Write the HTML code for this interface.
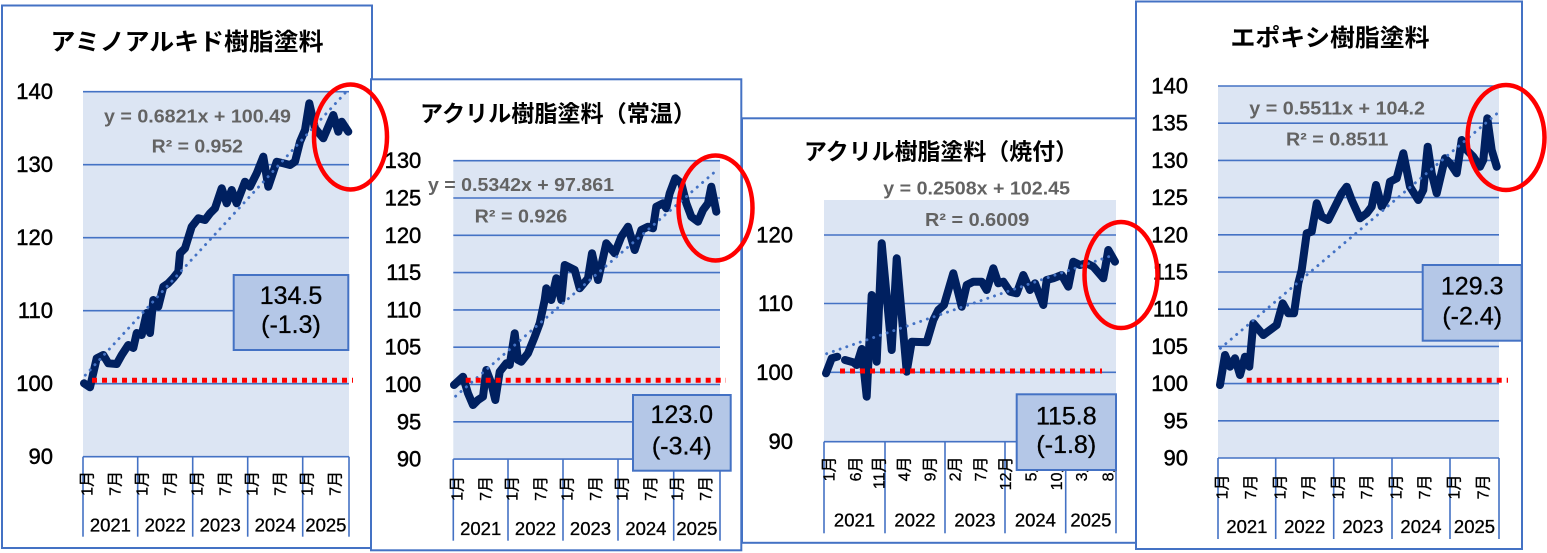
<!DOCTYPE html>
<html><head><meta charset="utf-8"><style>
html,body{margin:0;padding:0;background:#fff;}
svg{display:block;}
text{font-family:"Liberation Sans","Noto Sans CJK JP",sans-serif;}
.lab{stroke:#000;stroke-width:0.45;}
.lab2{stroke:#000;stroke-width:0.3;}
</style></head><body>
<svg width="1547" height="553" viewBox="0 0 1547 553" xmlns="http://www.w3.org/2000/svg">
<rect x="0" y="0" width="1547" height="553" fill="#fff"/>

<!-- ============ PANEL 1 ============ -->
<rect x="2" y="5.5" width="370" height="542.5" fill="#fff" stroke="#4472C4" stroke-width="2"/>
<text x="50.5" y="42.5" font-size="24" font-weight="bold" dominant-baseline="central" textLength="273" lengthAdjust="spacingAndGlyphs">アミノアルキド樹脂塗料</text>
<rect x="83" y="91.7" width="266" height="365" fill="#DCE5F3"/>
<g stroke="#4472C4" stroke-width="1.6">
<line x1="83" y1="91.7" x2="349" y2="91.7"/><line x1="83" y1="164.7" x2="349" y2="164.7"/><line x1="83" y1="237.7" x2="349" y2="237.7"/><line x1="83" y1="310.7" x2="349" y2="310.7"/><line x1="83" y1="383.7" x2="349" y2="383.7"/><line x1="83" y1="456.7" x2="349" y2="456.7"/>
<line x1="83" y1="456.7" x2="83" y2="536.7"/><line x1="137.7" y1="456.7" x2="137.7" y2="536.7"/><line x1="192.7" y1="456.7" x2="192.7" y2="536.7"/><line x1="247.7" y1="456.7" x2="247.7" y2="536.7"/><line x1="302.7" y1="456.7" x2="302.7" y2="536.7"/><line x1="349" y1="456.7" x2="349" y2="536.7"/>
</g>
<g class="lab" font-size="22" text-anchor="end" dominant-baseline="central" fill="#000">
<text x="53" y="91.7">140</text><text x="53" y="164.7">130</text><text x="53" y="237.7">120</text><text x="53" y="310.7">110</text><text x="53" y="383.7">100</text><text x="53" y="456.7">90</text>
</g>
<g class="lab2" font-size="16" text-anchor="end" dominant-baseline="central" fill="#000">
<text transform="translate(88,471) rotate(-90)">1月</text><text transform="translate(116,471) rotate(-90)">7月</text>
<text transform="translate(143,471) rotate(-90)">1月</text><text transform="translate(171,471) rotate(-90)">7月</text>
<text transform="translate(198,471) rotate(-90)">1月</text><text transform="translate(226,471) rotate(-90)">7月</text>
<text transform="translate(253,471) rotate(-90)">1月</text><text transform="translate(281,471) rotate(-90)">7月</text>
<text transform="translate(308,471) rotate(-90)">1月</text><text transform="translate(336,471) rotate(-90)">7月</text>
</g>
<g class="lab2" font-size="18.5" text-anchor="middle" dominant-baseline="central" fill="#000">
<text x="110.4" y="525">2021</text><text x="165.2" y="525">2022</text><text x="220.2" y="525">2023</text><text x="275.2" y="525">2024</text><text x="325.9" y="525">2025</text>
</g>
<polyline fill="none" stroke="#002060" stroke-width="8" stroke-linejoin="round" stroke-linecap="round" points="84,383.3 90,387.3 96.7,358.3 103.3,355 108.3,363.3 116.7,364 121.7,355 128.3,345 133.3,348 136.7,333 141.7,335 146.7,313 150,333 153.3,300 158.3,306.7 163.3,286.7 168.3,283.3 173.3,278 178.3,271.7 180,253.3 185,248.3 191.7,226.7 198.3,218.3 205,220 210,213.3 215,208.3 221.7,188.3 226.7,203.3 231.7,190 236.7,203.3 245,181.7 250,186.7 256.7,173.3 263.3,156.7 268.3,186.7 276.7,161.7 283.3,163.3 290,165 295,161.7 300,141.7 305,130 309.3,103.3 315,128.3 323.3,138.3 333.3,115 338.3,131.7 341.7,121.7 348.3,131.7"/>
<line x1="85.3" y1="375.2" x2="346.7" y2="91.3" stroke="#4472C4" stroke-width="2.9" stroke-dasharray="0.1 7" stroke-linecap="round"/>
<g font-size="18" font-weight="bold" fill="#636363" dominant-baseline="central">
<text x="104" y="116.7" textLength="187" lengthAdjust="spacingAndGlyphs">y = 0.6821x + 100.49</text>
<text x="151.7" y="146.7" textLength="91.3" lengthAdjust="spacingAndGlyphs">R² = 0.952</text>
</g>
<line x1="92" y1="380.3" x2="353" y2="380.3" stroke="#FF0000" stroke-width="5" stroke-dasharray="5 5"/>
<rect x="233.7" y="275" width="114.6" height="75" fill="#B4C7E7" stroke="#4472C4" stroke-width="2"/>
<g class="lab2" font-size="25" text-anchor="middle" dominant-baseline="central" fill="#000">
<text x="291" y="296">134.5</text><text x="291" y="325">(-1.3)</text>
</g>

<!-- ============ PANEL 2 ============ -->
<rect x="371" y="79.3" width="370.3" height="471" fill="#fff" stroke="#4472C4" stroke-width="2"/>
<text x="420" y="113.3" font-size="23" font-weight="bold" dominant-baseline="central" textLength="276" lengthAdjust="spacingAndGlyphs">アクリル樹脂塗料（常温）</text>
<rect x="453.3" y="160.7" width="266.7" height="298.4" fill="#DCE5F3"/>
<g stroke="#4472C4" stroke-width="1.6">
<line x1="453.3" y1="160.7" x2="720" y2="160.7"/><line x1="453.3" y1="198" x2="720" y2="198"/><line x1="453.3" y1="235.3" x2="720" y2="235.3"/><line x1="453.3" y1="272.6" x2="720" y2="272.6"/><line x1="453.3" y1="309.9" x2="720" y2="309.9"/><line x1="453.3" y1="347.2" x2="720" y2="347.2"/><line x1="453.3" y1="384.5" x2="720" y2="384.5"/><line x1="453.3" y1="421.8" x2="720" y2="421.8"/><line x1="453.3" y1="459.1" x2="720" y2="459.1"/>
<line x1="453.3" y1="459.1" x2="453.3" y2="540.7"/><line x1="508" y1="459.1" x2="508" y2="540.7"/><line x1="563" y1="459.1" x2="563" y2="540.7"/><line x1="618" y1="459.1" x2="618" y2="540.7"/><line x1="673.7" y1="459.1" x2="673.7" y2="540.7"/><line x1="720" y1="459.1" x2="720" y2="540.7"/>
</g>
<g class="lab" font-size="22" text-anchor="end" dominant-baseline="central" fill="#000">
<text x="421.3" y="160.7">130</text><text x="421.3" y="198">125</text><text x="421.3" y="235.3">120</text><text x="421.3" y="272.6">115</text><text x="421.3" y="309.9">110</text><text x="421.3" y="347.2">105</text><text x="421.3" y="384.5">100</text><text x="421.3" y="421.8">95</text><text x="421.3" y="459.1">90</text>
</g>
<g class="lab2" font-size="16" text-anchor="end" dominant-baseline="central" fill="#000">
<text transform="translate(458,476) rotate(-90)">1月</text><text transform="translate(486.3,476) rotate(-90)">7月</text>
<text transform="translate(513,476) rotate(-90)">1月</text><text transform="translate(541.3,476) rotate(-90)">7月</text>
<text transform="translate(568,476) rotate(-90)">1月</text><text transform="translate(596.3,476) rotate(-90)">7月</text>
<text transform="translate(623,476) rotate(-90)">1月</text><text transform="translate(651.3,476) rotate(-90)">7月</text>
<text transform="translate(678,476) rotate(-90)">1月</text><text transform="translate(706.3,476) rotate(-90)">7月</text>
</g>
<g class="lab2" font-size="18.5" text-anchor="middle" dominant-baseline="central" fill="#000">
<text x="480.7" y="528.3">2021</text><text x="535.5" y="528.3">2022</text><text x="590.5" y="528.3">2023</text><text x="645.9" y="528.3">2024</text><text x="696.9" y="528.3">2025</text>
</g>
<polyline fill="none" stroke="#002060" stroke-width="8" stroke-linejoin="round" stroke-linecap="round" points="454,385 463,376.7 468,393.3 473,405 478,400 483,396.7 486.3,370 491.3,383.3 495.3,400 499.7,371.7 506.3,363.3 509.7,365 514.7,333.3 518,360 521.3,361.7 528,353.3 534.7,336.7 539.7,323.3 544.7,300 546.3,288.3 551.3,300 556.3,278.3 561.3,300 564.7,265 574.7,270 579.7,288.3 588,278.3 592,253.3 598,280 606.3,243.3 614.7,253.3 621.3,236.7 628,226.7 634.7,250 641.3,230 648,226.7 653,228.3 656.3,206.7 663,203.3 666.3,208.3 669.7,193.3 675.3,178.3 681.3,183.3 686.3,203.3 691.3,216.7 698,221.7 703,210 708,203.3 711.3,186.7 716.3,211.7"/>
<line x1="455.6" y1="396.2" x2="717.7" y2="169.4" stroke="#4472C4" stroke-width="2.9" stroke-dasharray="0.1 7" stroke-linecap="round"/>
<g font-size="18" font-weight="bold" fill="#636363" dominant-baseline="central">
<text x="428" y="185" textLength="186" lengthAdjust="spacingAndGlyphs">y = 0.5342x + 97.861</text>
<text x="474.7" y="216.7" textLength="92.6" lengthAdjust="spacingAndGlyphs">R² = 0.926</text>
</g>
<line x1="465.7" y1="380.3" x2="726" y2="380.3" stroke="#FF0000" stroke-width="5" stroke-dasharray="5 5"/>
<rect x="633" y="395" width="97.7" height="75.7" fill="#B4C7E7" stroke="#4472C4" stroke-width="2"/>
<g class="lab2" font-size="25" text-anchor="middle" dominant-baseline="central" fill="#000">
<text x="681.8" y="415">123.0</text><text x="681.8" y="446.7">(-3.4)</text>
</g>

<!-- ============ PANEL 3 ============ -->
<rect x="742" y="118.3" width="394" height="424.5" fill="#fff" stroke="#4472C4" stroke-width="2"/>
<text x="804" y="151.7" font-size="23" font-weight="bold" dominant-baseline="central" textLength="274" lengthAdjust="spacingAndGlyphs">アクリル樹脂塗料（焼付）</text>
<rect x="824" y="200" width="292" height="241.7" fill="#DCE5F3"/>
<g stroke="#4472C4" stroke-width="1.6">
<line x1="824" y1="235" x2="1116" y2="235"/><line x1="824" y1="303.5" x2="1116" y2="303.5"/><line x1="824" y1="372.3" x2="1116" y2="372.3"/><line x1="824" y1="441.7" x2="1116" y2="441.7"/>
<line x1="824" y1="441.7" x2="824" y2="533.3"/><line x1="885" y1="441.7" x2="885" y2="533.3"/><line x1="945" y1="441.7" x2="945" y2="533.3"/><line x1="1005" y1="441.7" x2="1005" y2="533.3"/><line x1="1065.7" y1="441.7" x2="1065.7" y2="533.3"/><line x1="1116" y1="441.7" x2="1116" y2="533.3"/>
</g>
<g class="lab" font-size="22" text-anchor="end" dominant-baseline="central" fill="#000">
<text x="793" y="235">120</text><text x="793" y="303.5">110</text><text x="793" y="372.3">100</text><text x="793" y="441.5">90</text>
</g>
<g class="lab2" font-size="16" text-anchor="end" dominant-baseline="central" fill="#000">
<text transform="translate(830,456.5) rotate(-90)">1月</text>
<text transform="translate(856.7,456.5) rotate(-90)">6月</text>
<text transform="translate(880,456.5) rotate(-90)">11月</text>
<text transform="translate(905,456.5) rotate(-90)">4月</text>
<text transform="translate(931,456.5) rotate(-90)">9月</text>
<text transform="translate(956,456.5) rotate(-90)">2月</text>
<text transform="translate(981.7,456.5) rotate(-90)">7月</text>
<text transform="translate(1006.7,456.5) rotate(-90)">12月</text>
<text transform="translate(1032,456.5) rotate(-90)">5月</text>
<text transform="translate(1057.5,456.5) rotate(-90)">10月</text>
<text transform="translate(1082.5,456.5) rotate(-90)">3月</text>
<text transform="translate(1109,456.5) rotate(-90)">8月</text>
</g>
<g class="lab2" font-size="18.5" text-anchor="middle" dominant-baseline="central" fill="#000">
<text x="854.5" y="520">2021</text><text x="915" y="520">2022</text><text x="975" y="520">2023</text><text x="1035.4" y="520">2024</text><text x="1090.9" y="520">2025</text>
</g>
<g fill="none" stroke="#002060" stroke-width="8" stroke-linejoin="round" stroke-linecap="round">
<polyline points="826,373.3 831.7,358.3 837.3,356.7"/>
<polyline points="845,360 853.3,362.3 856.7,365 861.7,349 866.7,396.7 871.7,295 876.7,361.7 881.7,243.3 891.7,350 896.7,258.3 906.7,371.7 911.7,341.7 926.7,342.3 933.3,320 938.3,310 944,305 953.3,273.3 961.7,306.7 966.7,285 973.3,281.7 981.7,281.7 986.7,290 993.3,268.3 998.3,283.3 1003.3,281.7 1010,291.7 1016.7,293.3 1023.3,275 1030,290 1035,283.3 1043.3,305 1046.7,280 1053.3,278.3 1061.7,275 1068.3,286.7 1073.3,261.7 1080,265 1086.7,263.3 1093.3,266.7 1103.3,278.3 1108.3,250 1115,261.7"/>
</g>
<line x1="826.6" y1="353.7" x2="1113.5" y2="255" stroke="#4472C4" stroke-width="2.9" stroke-dasharray="0.1 7" stroke-linecap="round"/>
<g font-size="18" font-weight="bold" fill="#636363" dominant-baseline="central">
<text x="883.3" y="188.3" textLength="186.7" lengthAdjust="spacingAndGlyphs">y = 0.2508x + 102.45</text>
<text x="925" y="220" textLength="104.3" lengthAdjust="spacingAndGlyphs">R² = 0.6009</text>
</g>
<line x1="840" y1="371" x2="1102" y2="371" stroke="#FF0000" stroke-width="5" stroke-dasharray="5 5"/>
<rect x="1016.7" y="394.3" width="99.3" height="75.7" fill="#B4C7E7" stroke="#4472C4" stroke-width="2"/>
<g class="lab2" font-size="25" text-anchor="middle" dominant-baseline="central" fill="#000">
<text x="1066.3" y="416.7">115.8</text><text x="1066.3" y="445">(-1.8)</text>
</g>

<!-- ============ PANEL 4 ============ -->
<rect x="1136" y="1.5" width="386" height="547.5" fill="#fff" stroke="#4472C4" stroke-width="2"/>
<text x="1230.5" y="38.3" font-size="24" font-weight="bold" dominant-baseline="central" textLength="199" lengthAdjust="spacingAndGlyphs">エポキシ樹脂塗料</text>
<rect x="1218" y="86" width="281" height="372" fill="#DCE5F3"/>
<g stroke="#4472C4" stroke-width="1.6">
<line x1="1218" y1="86" x2="1499" y2="86"/><line x1="1218" y1="123.2" x2="1499" y2="123.2"/><line x1="1218" y1="160.4" x2="1499" y2="160.4"/><line x1="1218" y1="197.6" x2="1499" y2="197.6"/><line x1="1218" y1="234.8" x2="1499" y2="234.8"/><line x1="1218" y1="272" x2="1499" y2="272"/><line x1="1218" y1="309.2" x2="1499" y2="309.2"/><line x1="1218" y1="346.4" x2="1499" y2="346.4"/><line x1="1218" y1="383.6" x2="1499" y2="383.6"/><line x1="1218" y1="420.8" x2="1499" y2="420.8"/><line x1="1218" y1="458" x2="1499" y2="458"/>
<line x1="1218" y1="458" x2="1218" y2="539"/><line x1="1275.7" y1="458" x2="1275.7" y2="539"/><line x1="1333.7" y1="458" x2="1333.7" y2="539"/><line x1="1392" y1="458" x2="1392" y2="539"/><line x1="1450" y1="458" x2="1450" y2="539"/><line x1="1499" y1="458" x2="1499" y2="539"/>
</g>
<g class="lab" font-size="22" text-anchor="end" dominant-baseline="central" fill="#000">
<text x="1188" y="86">140</text><text x="1188" y="123.2">135</text><text x="1188" y="160.4">130</text><text x="1188" y="197.6">125</text><text x="1188" y="234.8">120</text><text x="1188" y="272">115</text><text x="1188" y="309.2">110</text><text x="1188" y="346.4">105</text><text x="1188" y="383.6">100</text><text x="1188" y="420.8">95</text><text x="1188" y="458">90</text>
</g>
<g class="lab2" font-size="16" text-anchor="end" dominant-baseline="central" fill="#000">
<text transform="translate(1223,474.5) rotate(-90)">1月</text><text transform="translate(1251.7,474.5) rotate(-90)">7月</text>
<text transform="translate(1281,474.5) rotate(-90)">1月</text><text transform="translate(1309.7,474.5) rotate(-90)">7月</text>
<text transform="translate(1339,474.5) rotate(-90)">1月</text><text transform="translate(1367.7,474.5) rotate(-90)">7月</text>
<text transform="translate(1397,474.5) rotate(-90)">1月</text><text transform="translate(1425.7,474.5) rotate(-90)">7月</text>
<text transform="translate(1455,474.5) rotate(-90)">1月</text><text transform="translate(1484,474.5) rotate(-90)">7月</text>
</g>
<g class="lab2" font-size="18.5" text-anchor="middle" dominant-baseline="central" fill="#000">
<text x="1246.9" y="526.7">2021</text><text x="1304.7" y="526.7">2022</text><text x="1362.9" y="526.7">2023</text><text x="1421" y="526.7">2024</text><text x="1474.5" y="526.7">2025</text>
</g>
<polyline fill="none" stroke="#002060" stroke-width="8" stroke-linejoin="round" stroke-linecap="round" points="1220,385 1225,355 1230,366.7 1235,358.3 1240,375 1245,356.7 1249.3,366.7 1253.3,323.3 1263.3,335 1270,330 1276.7,325 1282.7,303.3 1288.3,313.3 1294,313.3 1298.3,283.3 1301.7,270 1306.7,233.3 1311.7,231.7 1316.7,203.3 1321.7,216.7 1328.3,220 1335,206.7 1341.7,193.3 1346.7,186.7 1351.7,200 1360,218.3 1366.7,213.3 1371.7,206.7 1376,185 1381.7,206.7 1386.7,198.3 1390,181.7 1396.7,178.3 1403.3,153.3 1410,186.7 1418.3,200 1423.3,190 1427.7,146.7 1431.7,173.3 1436.7,193.3 1445,158.3 1450,163.3 1456.7,173.3 1461.7,140 1466.7,150 1473.3,156.7 1480,166.7 1483.3,160 1487.3,118.3 1491.7,150 1496.7,166.7"/>
<line x1="1220.4" y1="348.3" x2="1496.6" y2="113.9" stroke="#4472C4" stroke-width="2.9" stroke-dasharray="0.1 7" stroke-linecap="round"/>
<g font-size="18" font-weight="bold" fill="#636363" dominant-baseline="central">
<text x="1249.3" y="108.3" textLength="175.7" lengthAdjust="spacingAndGlyphs">y = 0.5511x + 104.2</text>
<text x="1286" y="139.3" textLength="102.3" lengthAdjust="spacingAndGlyphs">R² = 0.8511</text>
</g>
<line x1="1246.7" y1="380.3" x2="1508" y2="380.3" stroke="#FF0000" stroke-width="5" stroke-dasharray="5 5"/>
<rect x="1422.7" y="265" width="99" height="75.7" fill="#B4C7E7" stroke="#4472C4" stroke-width="2"/>
<g class="lab2" font-size="25" text-anchor="middle" dominant-baseline="central" fill="#000">
<text x="1472.2" y="286.7">129.3</text><text x="1472.2" y="316.7">(-2.4)</text>
</g>

<!-- ============ RED ELLIPSES ============ -->
<g fill="none" stroke="#FF0000" stroke-width="4.5">
<ellipse cx="350.5" cy="137" rx="36.5" ry="52.5"/>
<ellipse cx="715.5" cy="208" rx="37" ry="52.5"/>
<ellipse cx="1121" cy="275" rx="36.5" ry="53"/>
<ellipse cx="1506" cy="137.5" rx="38.5" ry="52.5"/>
</g>
</svg>
</body></html>
